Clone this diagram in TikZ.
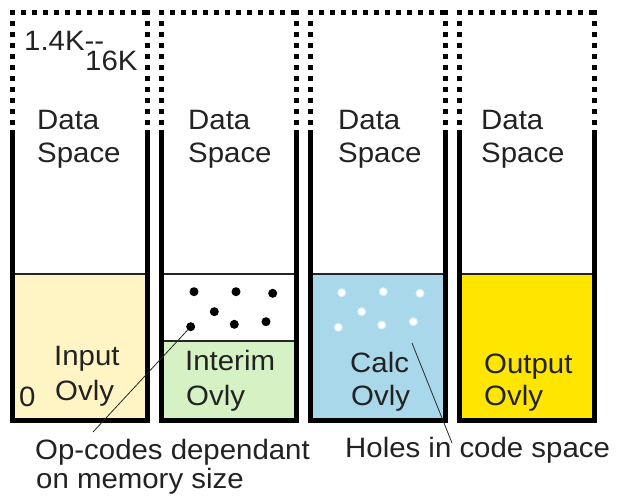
\documentclass[tikz,border=0pt]{standalone}
\usepackage{fontspec}
\setmainfont[FakeStretch=1.05]{Liberation Sans}
\definecolor{c1}{HTML}{FFF5C4}
\definecolor{c2}{HTML}{D6F2C4}
\definecolor{c3}{HTML}{A8D8EA}
\definecolor{c4}{HTML}{FFE600}
\definecolor{txt}{HTML}{222222}
\begin{document}
\begin{tikzpicture}[x=1pt,y=-1pt,
  boxline/.style={line width=5pt,line join=miter},
  dotline/.style={line width=5pt,dash pattern=on 5pt off 6pt},
  divline/.style={line width=2pt,draw=black!85},
  lbl/.style={anchor=base west,inner sep=0pt,font=\fontsize{28}{33}\selectfont,text=txt},
  blk/.style={circle,fill=black,inner sep=0pt,minimum size=9pt},
  hole/.style={circle,fill=white,draw=white!60!c3,line width=1pt,inner sep=0pt,minimum size=8pt},
  lead/.style={line width=0.8pt,draw=black!85}]
\useasboundingbox[fill=white] (0,0) rectangle (617,496);
% fills
\fill[c1] (12.5,274) rectangle (147.5,420);
\fill[c2] (161.5,341) rectangle (296.5,420);
\fill[c3] (310.5,274) rectangle (445.5,420);
\fill[c4] (459.5,274) rectangle (594.5,420);
% dividers
\foreach \l in {12.5,161.5,310.5,459.5}{
  \draw[divline] (\l,274) -- ++(135,0);
}
\draw[divline] (161.5,341) -- (296.5,341);
% column outlines
\foreach \l in {12.5,161.5,310.5,459.5}{
  \draw[boxline] (\l,130) -- (\l,420) -- ++(135,0) -- ++(0,-290);
  \draw[dotline] (\l,10) -- (\l,130);
  \draw[dotline] (\l-2.5,12.5) -- (\l+137.5,12.5);
  \draw[dotline] (\l+135,10) -- (\l+135,130);
}
% top labels
\node[lbl] (k14) at (24,50) {1.4K\mbox{-}\mbox{-}};
\node[lbl] (k16) at (85,70) {16K};
\node[lbl] (ds1a) at (37,129) {Data};
\node[lbl] (ds1b) at (37,162) {Space};
\node[lbl] (ds2a) at (188,129) {Data};
\node[lbl] (ds2b) at (188,162) {Space};
\node[lbl] (ds3a) at (338,129) {Data};
\node[lbl] (ds3b) at (338,162) {Space};
\node[lbl] (ds4a) at (481,129) {Data};
\node[lbl] (ds4b) at (481,162) {Space};
% overlay labels
\node[lbl] (in1) at (54,365) {Input};
\node[lbl] (in2) at (55,400) {Ovly};
\node[lbl] (zero) at (19,406) {0};
\node[lbl] (it1) at (185,370) {Interim};
\node[lbl] (it2) at (186,405) {Ovly};
\node[lbl] (ca1) at (350,372) {Calc};
\node[lbl] (ca2) at (351,405) {Ovly};
\node[lbl] (ou1) at (484,373) {Output};
\node[lbl] (ou2) at (484,405) {Ovly};
% op-code dots
\node[blk] (d1) at (194,291.7) {};
\node[blk] (d2) at (236,291.7) {};
\node[blk] (d3) at (272.7,293.3) {};
\node[blk] (d4) at (214.3,311.7) {};
\node[blk] (d5) at (190.7,326.7) {};
\node[blk] (d6) at (234.3,324.3) {};
\node[blk] (d7) at (266,321.7) {};
% holes
\node[hole] (h1) at (341.7,292.7) {};
\node[hole] (h2) at (383.3,291.7) {};
\node[hole] (h3) at (420,293.3) {};
\node[hole] (h4) at (361.7,311.7) {};
\node[hole] (h5) at (338.3,327.3) {};
\node[hole] (h6) at (381.7,325) {};
\node[hole] (h7) at (413.3,321.7) {};
% bottom labels
\node[lbl] (op1) at (35,459) {Op-codes dependant};
\node[lbl] (op2) at (36,488) {on memory size};
\node[lbl] (hol) at (345,457) {Holes in code space};
% leaders
\coordinate (opend) at (93,432);
\draw[lead] (opend) -- (d5);
\coordinate (hs) at (412,343);
\coordinate (he) at (452,443);
\draw[lead] (hs) -- (he);
\end{tikzpicture}
\end{document}
